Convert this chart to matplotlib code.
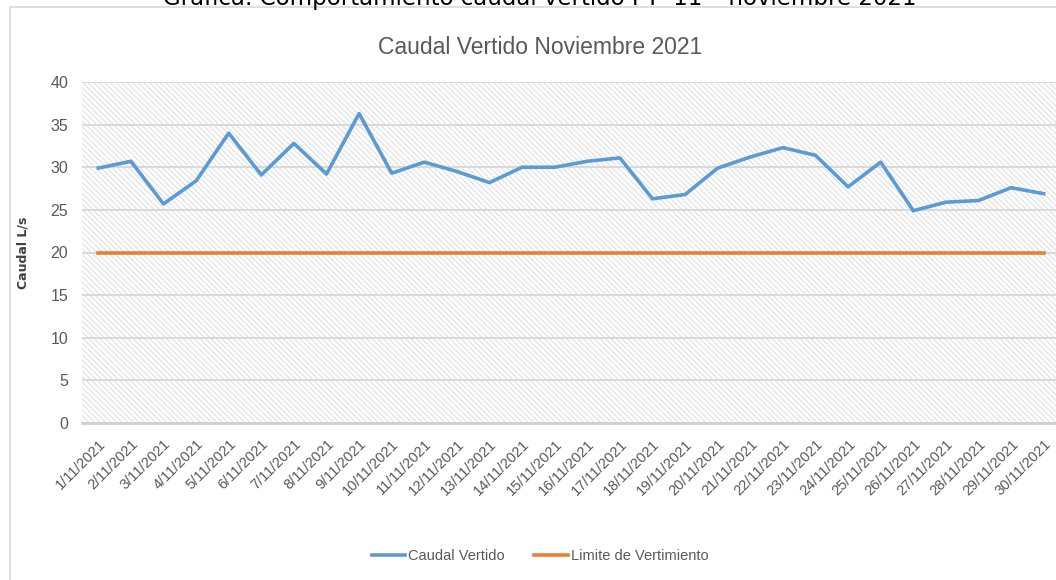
import matplotlib
matplotlib.use("Agg")
import matplotlib.pyplot as plt
from matplotlib.patches import Rectangle

# datos
fechas = [f"{d}/11/2021" for d in range(1, 31)]
caudal_vertido = [29.9, 30.7, 25.7, 28.4, 34.0, 29.1, 32.8, 29.2, 36.3, 29.3,
                  30.6, 29.5, 28.2, 30.0, 30.0, 30.7, 31.1, 26.3, 26.8, 29.9,
                  31.2, 32.3, 31.4, 27.7, 30.6, 24.9, 25.9, 26.1, 27.6, 26.9]
limite_vertimiento = [20] * 30

plt.rcParams['font.family'] = ['Liberation Sans', 'DejaVu Sans']
plt.rcParams['hatch.linewidth'] = 0.5

W, H = 1056, 580
fig = plt.figure(figsize=(W / 100, H / 100), dpi=100)

# marco del area del grafico
fig.patches.append(Rectangle((10 / W, -0.1), 1.2, 1 - 7 / H + 0.1, transform=fig.transFigure,
                             facecolor='none', edgecolor='#d9d9d9', linewidth=1.2))

# titulo del documento (cortado arriba, como en la imagen)
fig.text(540 / W, 1 - 5 / H, "Grafica: Comportamiento caudal vertido PT- 11 \u2013 noviembre 2021",
         ha='center', va='baseline', fontsize=16.5, color='black', family=['DejaVu Sans'])

left, right, top, bottom = 82, 1060, 82, 423
ax = fig.add_axes([left / W, 1 - bottom / H, (right - left) / W, (bottom - top) / H])

# fondo rayado
ax.add_patch(Rectangle((0, 0), 1, 1, transform=ax.transAxes, facecolor='white',
                       edgecolor='#d0d0d0', hatch='\\\\\\\\\\\\', linewidth=0, zorder=0))

x = list(range(len(fechas)))
ax.plot(x, caudal_vertido, color='#5b9bd5', linewidth=2.6, label='Caudal Vertido', zorder=3)
ax.plot(x, limite_vertimiento, color='#ed7d31', linewidth=2.6, label='Limite de Vertimiento', zorder=3)

ax.set_xlim(-0.5, len(fechas) - 0.5)
ax.set_ylim(0, 40)
ax.set_yticks(range(0, 41, 5))
ax.grid(axis='y', color='#d9d9d9', linewidth=1.4, zorder=1)
ax.set_axisbelow(True)
for s in ['top', 'right', 'left']:
    ax.spines[s].set_visible(False)
ax.spines['bottom'].set_color('#d0d0d0')
ax.spines['bottom'].set_linewidth(2)

ax.set_xticks(x)
ax.set_xticklabels(fechas, rotation=45, ha='right', rotation_mode='anchor')
ax.tick_params(axis='both', length=0, colors='#595959')
ax.tick_params(axis='x', pad=10, labelsize=10.5)
ax.tick_params(axis='y', pad=10, labelsize=11.5)

ax.set_ylabel('Caudal L/s', fontsize=9, fontweight='bold', color='#404040',
              family=['DejaVu Sans'])
ax.yaxis.set_label_coords((30 - left) / (right - left), 0.5)

fig.text(540 / W, 1 - 47 / H, 'Caudal Vertido Noviembre 2021', ha='center', va='center',
         fontsize=16.5, color='#595959')

fig.legend(loc='center', bbox_to_anchor=(540 / W, 1 - 556 / H), ncol=2, frameon=False,
           fontsize=10.5, handlelength=2.3, handletextpad=0.2, columnspacing=2.0,
           labelcolor='#595959')

fig.savefig('out.png', dpi=100)
